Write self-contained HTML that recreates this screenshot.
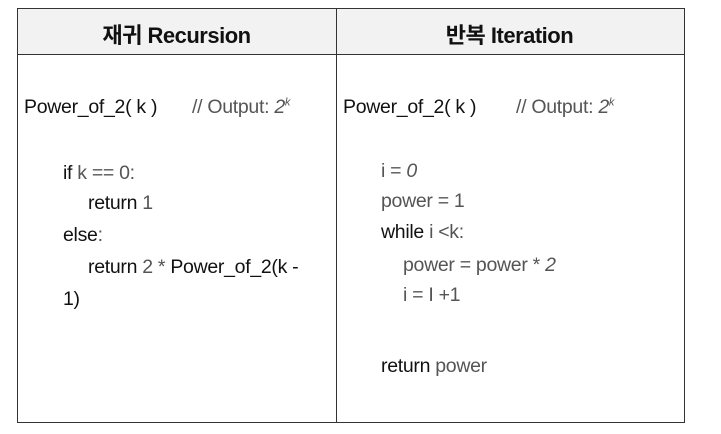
<!DOCTYPE html>
<html><head><meta charset="utf-8"><style>
body{margin:0;width:721px;height:434px;background:#fff;position:relative;font-family:"Liberation Sans","Noto Sans CJK KR",sans-serif;overflow:hidden}
.box{position:absolute;border:1px solid #333}
.t{position:absolute;font-size:19.5px;color:#111;white-space:nowrap;letter-spacing:-0.3px}
.l{color:#555}
.h{position:absolute;font-size:22px;color:#111;text-align:center;top:18px;font-weight:bold;letter-spacing:-0.5px}
i{font-style:italic}
</style></head><body>
<div class="box" style="left:17px;top:8px;width:666px;height:413px"></div>
<div style="position:absolute;left:18px;top:9px;width:666px;height:45px;background:#f2f2f2;border-bottom:1px solid #333"></div>
<div style="position:absolute;left:336px;top:8px;width:1px;height:414px;background:#333"></div>
<div class="h" style="left:17px;width:319px">재귀 Recursion</div>
<div class="h" style="left:336px;width:347px">반복 Iteration</div>

<div class="t" style="left:24px;top:96px">Power_of_2( k )</div>
<div class="t l" style="left:192px;top:96px">// Output: <i>2<sup style="font-size:11px">k</sup></i></div>
<div class="t" style="left:63px;top:162px">if <span class="l">k == 0:</span></div>
<div class="t" style="left:88px;top:192px">return <span class="l">1</span></div>
<div class="t" style="left:63px;top:224px">else<span class="l">:</span></div>
<div class="t" style="left:88px;top:256px">return <span class="l">2 * </span>Power_of_2(k -</div>
<div class="t" style="left:63px;top:288px">1)</div>

<div class="t" style="left:343px;top:96px">Power_of_2( k )</div>
<div class="t l" style="left:516px;top:96px">// Output: <i>2<sup style="font-size:11px">k</sup></i></div>
<div class="t l" style="left:381px;top:160px">i = <i>0</i></div>
<div class="t l" style="left:381px;top:190px">power = 1</div>
<div class="t" style="left:381px;top:221px">while <span class="l">i &lt;k:</span></div>
<div class="t l" style="left:403px;top:254px">power = power * <i>2</i></div>
<div class="t l" style="left:403px;top:284px">i = I +1</div>
<div class="t" style="left:381px;top:355px">return <span class="l">power</span></div>
</body></html>
